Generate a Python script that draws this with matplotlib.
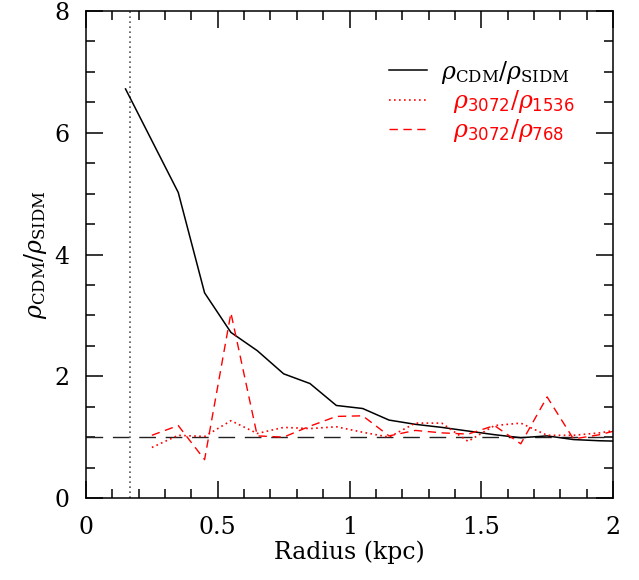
import matplotlib
matplotlib.use("Agg")
import matplotlib.pyplot as plt
from matplotlib.ticker import MultipleLocator, FixedFormatter, FixedLocator

plt.rcParams["font.family"] = "DejaVu Serif"
plt.rcParams["mathtext.fontset"] = "dejavuserif"

# ratio CDM / SIDM
r_cdm = [0.15, 0.35, 0.45, 0.55, 0.65, 0.75, 0.85, 0.95, 1.05, 1.15,
         1.25, 1.35, 1.45, 1.55, 1.65, 1.75, 1.85, 1.95, 2.05]
rat_cdm = [6.72, 5.02, 3.37, 2.72, 2.42, 2.04, 1.88, 1.52, 1.47, 1.28,
           1.21, 1.16, 1.10, 1.04, 0.99, 1.02, 0.96, 0.94, 0.93]

# resolution tests
r_res = [0.25, 0.35, 0.45, 0.55, 0.65, 0.75, 0.85, 0.95, 1.05, 1.15,
         1.25, 1.35, 1.45, 1.55, 1.65, 1.75, 1.85, 1.95, 2.05]
rat_1536 = [0.83, 1.03, 1.01, 1.27, 1.06, 1.16, 1.14, 1.17, 1.08, 1.00,
            1.23, 1.23, 0.93, 1.19, 1.23, 1.03, 1.03, 1.07, 1.14]
rat_768 = [1.03, 1.19, 0.63, 3.04, 1.02, 1.00, 1.18, 1.34, 1.35, 1.02,
           1.11, 1.07, 1.05, 1.19, 0.89, 1.66, 0.97, 1.04, 1.15]

r_soft = 0.167   # vertical dotted marker

fig = plt.figure(figsize=(6.39, 5.80), dpi=100)
ax = fig.add_axes([0.1346, 0.1414, 0.8247, 0.8396])

ax.axhline(1.0, color="#222222", lw=1.0, ls=(0, (12, 7)))
ax.axvline(r_soft, color="#555555", lw=1.2, ls=(0, (1, 2)))

ax.plot(r_cdm, rat_cdm, color="k", lw=1.1,
        label=r"$\rho_{\rm CDM}/\rho_{\rm SIDM}$")
ax.plot(r_res, rat_1536, color="red", lw=1.2, ls=(0, (1, 2)),
        label=r"$\;\;\rho_{\sf 3072}/\rho_{\sf 1536}$")
ax.plot(r_res, rat_768, color="red", lw=1.0, ls=(0, (6, 4)),
        label=r"$\;\;\rho_{\sf 3072}/\rho_{\sf 768}$")

ax.set_xlim(0, 2)
ax.set_ylim(0, 8)
ax.xaxis.set_major_locator(FixedLocator([0, 0.5, 1, 1.5, 2]))
ax.xaxis.set_major_formatter(FixedFormatter(["0", "0.5", "1", "1.5", "2"]))
ax.xaxis.set_minor_locator(MultipleLocator(0.1))
ax.yaxis.set_major_locator(FixedLocator([0, 2, 4, 6, 8]))
ax.yaxis.set_major_formatter(FixedFormatter(["0", "2", "4", "6", "8"]))
ax.yaxis.set_minor_locator(MultipleLocator(0.5))

ax.tick_params(which="both", direction="in", top=True, right=True,
               width=1.1, labelsize=17)
ax.tick_params(which="major", length=12.5)
ax.tick_params(which="minor", length=6.5)
ax.tick_params(axis="x", pad=13)
ax.tick_params(axis="y", pad=12)
for s in ax.spines.values():
    s.set_linewidth(1.1)

ax.set_xlabel("Radius (kpc)", fontsize=17, labelpad=1)
ax.set_ylabel(r"$\rho_{\rm CDM}/\rho_{\rm SIDM}$", fontsize=17, labelpad=4)

leg = ax.legend(loc="upper left", bbox_to_anchor=(0.575, 0.902), frameon=False,
                fontsize=17, handlelength=1.6, handletextpad=0.6,
                labelspacing=0.1, borderpad=0, borderaxespad=0)
leg.get_texts()[1].set_color("red")
leg.get_texts()[2].set_color("red")

fig.savefig("out.png", dpi=100)
